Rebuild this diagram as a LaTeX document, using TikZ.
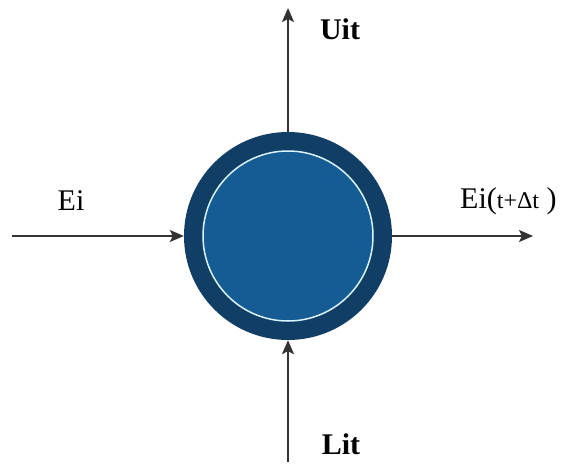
\documentclass[tikz,border=0pt]{standalone}
\usepackage{fontspec}
\setmainfont{Liberation Serif}
\usetikzlibrary{arrows.meta,positioning}
\definecolor{ringblue}{RGB}{17,62,101}
\definecolor{coreblue}{RGB}{22,92,148}

\begin{document}
\begin{tikzpicture}[x=1pt,y=-1pt,
  flow/.style={-{Stealth[length=14pt,width=12pt,inset=3pt]}, line width=1.4pt, draw=black!80},
  lbl/.style={font=\fontsize{30}{36}\selectfont, inner sep=0pt}]
\useasboundingbox (0,0) rectangle (568,466);
% the cell
\node[circle, fill=ringblue, minimum size=208pt, inner sep=0pt] (cell) at (288,236) {};
\node[circle, fill=coreblue, draw=white!85!cyan, line width=1.5pt, minimum size=170pt, inner sep=0pt] (core) at (cell.center) {};
% free ends
\coordinate (top) at (288,8);
\coordinate (bot) at (288,462);
\coordinate (lft) at (12,236);
\coordinate (rgt) at (533,236);
\draw[flow] (cell.north) -- (top);
\draw[flow] (bot) -- (cell.south);
\draw[flow] (lft) -- (cell.west);
\draw[flow] (cell.east) -- (rgt);
% labels
\node[lbl] (uit) at (340,29) {\textbf{Uit}};
\node[lbl] (lit) at (341,444) {\textbf{Lit}};
\node[lbl] (ein) at (71,201) {Ei};
\node[lbl, anchor=west] (eout) at (460,201) {Ei({\fontsize{24}{28}\selectfont t+Δt}\ )};
\end{tikzpicture}
\end{document}
